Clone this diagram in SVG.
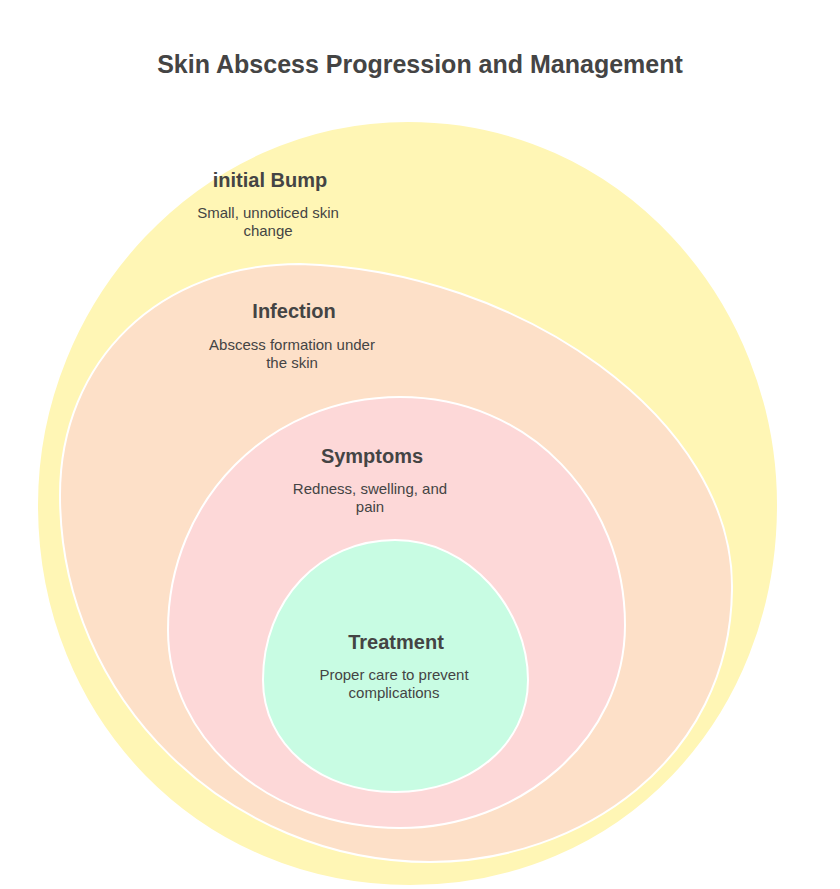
<svg xmlns="http://www.w3.org/2000/svg" width="840" height="889" viewBox="0 0 840 889">
<style>
.t{font-family:"Liberation Sans",Arial,sans-serif;font-weight:bold;font-size:25px;fill:#444;text-anchor:middle}
.h{font-family:"Liberation Sans",Arial,sans-serif;font-weight:bold;font-size:20px;fill:#444;text-anchor:middle}
.d{font-family:"Liberation Sans",Arial,sans-serif;font-size:15px;fill:#444;text-anchor:middle}
.s{stroke:#fff;stroke-width:2}
</style>
<rect width="840" height="889" fill="#fff"/>
<text class="t" x="420" y="73">Skin Abscess Progression and Management</text>
<g id="bump">
<path class="s" fill="#FFF6B5" d="M408 121 C620 121 778 300 778 505 C778 720 620 886 410 886 C200 886 37 720 37 505 C37 300 200 121 408 121 Z"/>
<text class="h" x="270" y="187">initial Bump</text>
<text class="d" x="268" y="218">Small, unnoticed skin</text>
<text class="d" x="268" y="236">change</text>
</g>
<g id="infection">
<path class="s" fill="#FDE0C8" d="M300 264 C520 270 735 420 732 590 C730 760 580 862 430 862 C230 862 60 700 60 495 C60 360 160 264 300 264 Z"/>
<text class="h" x="294" y="318">Infection</text>
<text class="d" x="292" y="350">Abscess formation under</text>
<text class="d" x="292" y="368">the skin</text>
</g>
<g id="symptoms">
<path class="s" fill="#FDD8D8" d="M400 397 C530 397 625 500 625 625 C625 740 520 828 400 828 C270 828 168 740 168 630 C168 500 270 397 400 397 Z"/>
<text class="h" x="372" y="463">Symptoms</text>
<text class="d" x="370" y="494">Redness, swelling, and</text>
<text class="d" x="370" y="512">pain</text>
</g>
<g id="treatment">
<path class="s" fill="#C8FCE3" d="M395 540 C470 540 528 610 528 680 C528 745 470 792 395 792 C320 792 263 745 263 680 C263 600 320 540 395 540 Z"/>
<text class="h" x="396" y="649">Treatment</text>
<text class="d" x="394" y="680">Proper care to prevent</text>
<text class="d" x="394" y="698">complications</text>
</g>
<g id="connectors"/>
</svg>
